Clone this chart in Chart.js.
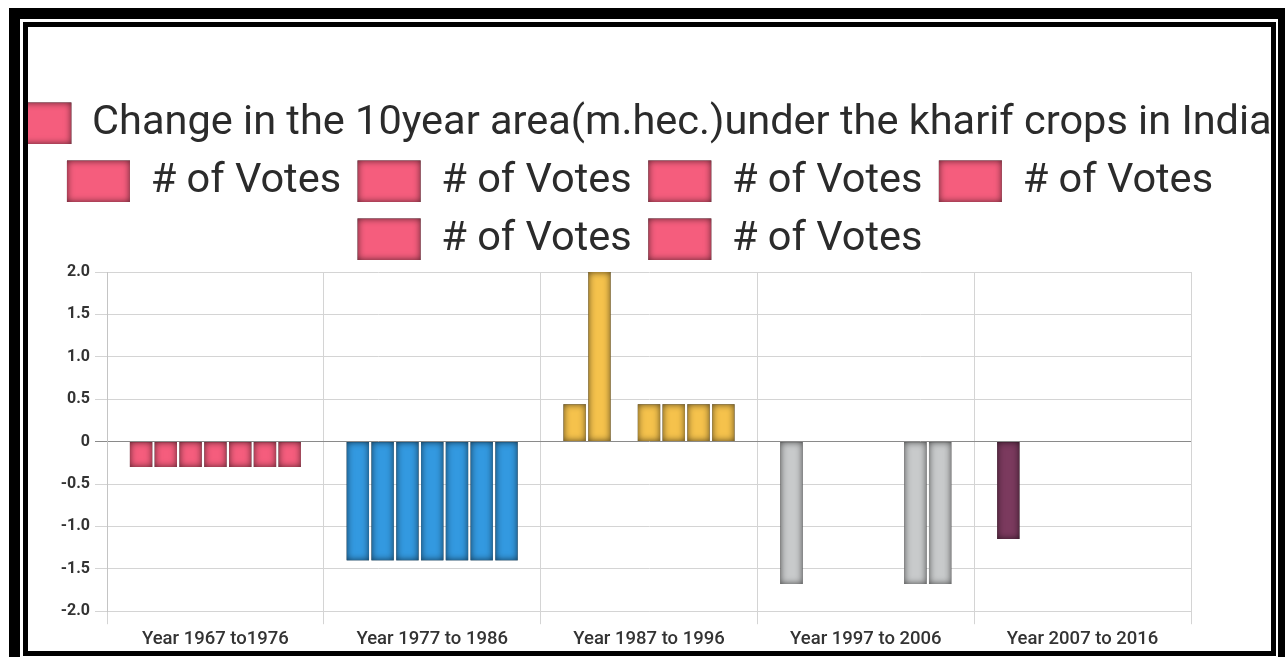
<!DOCTYPE html>
<html lang="en">
<head>
<meta charset="UTF-8">
<title>Kharif crops area change</title>
<script src="https://cdn.jsdelivr.net/npm/chart.js"></script>
<style>
  html, body { margin: 0; padding: 0; background: #fff; width: 1285px; height: 662px; overflow: hidden; }
  .outer { position: absolute; left: 9px; top: 8px; width: 1276px; height: 649px; background: #000; }
  .gap { position: absolute; left: 20px; top: 19px; width: 1258px; height: 638px; background: #fff; }
  .frame { position: absolute; left: 23px; top: 22px; width: 1243px; height: 624px; border: 5px solid #000; background: #fff; overflow: hidden; }
  .box { position: absolute; left: -19px; top: 0; width: 1262px; height: 628px; }
</style>
</head>
<body>
<div class="outer"></div>
<div class="gap"></div>
<div class="frame">
  <div class="box"><canvas id="chart"></canvas></div>
</div>
<script>
// categories and series
const categories = ['Year 1967 to1976', 'Year 1977 to 1986', 'Year 1987 to 1996', 'Year 1997 to 2006', 'Year 2007 to 2016'];
const seriesLabels = [
    'Change in the 10year area(m.hec.)under the kharif crops in India',
    '# of Votes', '# of Votes', '# of Votes', '# of Votes', '# of Votes', '# of Votes'
];
const series1 = [-0.3, -1.4, 0.44, -1.68, -1.15];
const series2 = [-0.3, -1.4, 2.0, null, null];
const series3 = [-0.3, -1.4, null, null, null];
const series4 = [-0.3, -1.4, 0.44, null, null];
const series5 = [-0.3, -1.4, 0.44, null, null];
const series6 = [-0.3, -1.4, 0.44, -1.68, null];
const series7 = [-0.3, -1.4, 0.44, -1.68, null];
const yTicks = [-2.0, -1.5, -1.0, -0.5, 0, 0.5, 1.0, 1.5, 2.0];
const categoryColors = ['#f55d7d', '#3399e0', '#f5c24c', '#c8cacb', '#7b3a5e'];

const allSeries = [series1, series2, series3, series4, series5, series6, series7];

// inner shadow look of the bars / legend boxes
function shadeRect(ctx, x, y, w, h) {
    if (w <= 0 || h <= 0) return;
    ctx.save();
    ctx.beginPath();
    ctx.rect(x, y, w, h);
    ctx.clip();
    ctx.shadowColor = 'rgba(0,0,0,0.65)';
    ctx.shadowBlur = 7;
    ctx.lineWidth = 8;
    ctx.strokeStyle = '#000';
    ctx.strokeRect(x - 4, y - 4, w + 8, h + 8);
    ctx.restore();
}

const innerShade = {
    id: 'innerShade',
    beforeLayout(chart) {
        // a little more room between legend and plot
        const lg = chart.legend;
        if (lg && !lg._padded) {
            const fit = lg.fit;
            lg.fit = function () { fit.call(this); this.height += 2; };
            lg._padded = true;
        }
    },
    afterDatasetsDraw(chart) {
        const ctx = chart.ctx;
        chart.data.datasets.forEach((ds, i) => {
            const meta = chart.getDatasetMeta(i);
            meta.data.forEach((bar, j) => {
                if (ds.data[j] == null) return;
                const p = bar.getProps(['x', 'y', 'base', 'width'], true);
                shadeRect(ctx, p.x - p.width / 2, Math.min(p.y, p.base), p.width, Math.abs(p.base - p.y));
            });
        });
    },
    afterDraw(chart) {
        const lg = chart.legend;
        if (!lg || !lg.legendHitBoxes) return;
        const opts = lg.options.labels;
        lg.legendHitBoxes.forEach(hb => {
            shadeRect(chart.ctx, hb.left, hb.top, opts.boxWidth, opts.font.size);
        });
    }
};

const ctx = document.getElementById('chart').getContext('2d');
new Chart(ctx, {
    type: 'bar',
    data: {
        labels: categories,
        datasets: allSeries.map((vals, i) => ({
            label: seriesLabels[i],
            data: vals,
            backgroundColor: categoryColors,
            borderWidth: 0
        }))
    },
    options: {
        responsive: true,
        maintainAspectRatio: false,
        animation: false,
        devicePixelRatio: 1,
        layout: { padding: { top: 59, right: 0, bottom: 0.6, left: 0 } },
        plugins: {
            tooltip: { enabled: false },
            legend: {
                position: 'top',
                labels: {
                    font: { family: 'Roboto', size: 41.5 },
                    color: '#2b2b2b',
                    boxWidth: 63,
                    padding: 16.5,
                    generateLabels(chart) {
                        return Chart.defaults.plugins.legend.labels.generateLabels(chart).map(item => {
                            item.fillStyle = categoryColors[0];
                            item.strokeStyle = categoryColors[0];
                            item.lineWidth = 0;
                            return item;
                        });
                    }
                }
            }
        },
        scales: {
            x: {
                grid: { color: '#d4d4d4', tickLength: 13 },
                border: { color: '#d4d4d4' },
                ticks: { font: { family: 'Roboto', size: 18.5, weight: '500' }, color: '#333', padding: 4, maxRotation: 0 }
            },
            y: {
                min: -2,
                max: 2,
                afterFit(scale) { scale.width = 98; },
                afterBuildTicks(scale) { scale.ticks = yTicks.map(v => ({ value: v })); },
                grid: {
                    tickLength: 12,
                    color: c => (c.tick && c.tick.value === 0) ? '#8a8a8a' : '#d4d4d4'
                },
                border: { color: '#c4c4c4' },
                ticks: {
                    font: { family: 'Roboto', size: 16, weight: 'bold' },
                    color: '#333',
                    padding: 5,
                    callback: v => v === 0 ? '0' : v.toFixed(1)
                }
            },
            yRight: {
                position: 'right',
                display: true,
                afterFit(scale) { scale.width = 80; },
                grid: { display: false, drawTicks: false },
                border: { display: false },
                ticks: { display: false }
            }
        }
    },
    plugins: [innerShade]
});
</script>
</body>
</html>
